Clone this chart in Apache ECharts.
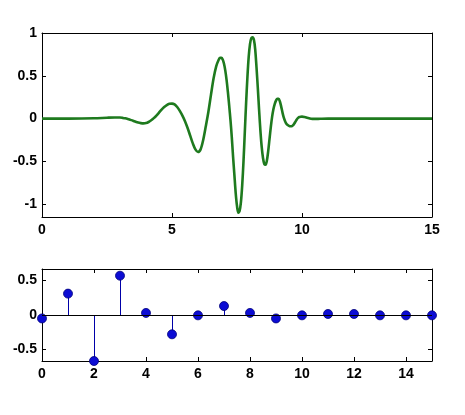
<!DOCTYPE html>
<html>
<head>
<meta charset="utf-8">
<script src="https://cdn.jsdelivr.net/npm/echarts@6/dist/echarts.min.js"></script>
<style>html,body{margin:0;padding:0;background:#fff;}#c{width:465px;height:415px;}</style>
</head>
<body>
<div id="c"></div>
<script>
// Top panel: wavelet curve
var waveX = [0, 1, 2, 2.5, 2.8, 3.0, 3.1, 3.2, 3.3, 3.4, 3.5, 3.6, 3.7, 3.8, 3.9, 4.0, 4.1, 4.2, 4.3, 4.4, 4.5, 4.6, 4.7, 4.8, 4.9, 5.0, 5.1, 5.2, 5.3, 5.4, 5.5, 5.6, 5.7, 5.8, 5.9, 6.0, 6.1, 6.2, 6.3, 6.4, 6.5, 6.6, 6.7,
  6.8, 6.85, 6.9, 6.95, 7.0, 7.05, 7.1, 7.15, 7.2, 7.25, 7.3, 7.35, 7.4, 7.45, 7.5, 7.55, 7.6, 7.65, 7.7, 7.75, 7.8, 7.85, 7.9, 7.95,
  8.0, 8.05, 8.1, 8.15, 8.2, 8.25, 8.3, 8.35, 8.4, 8.45, 8.5, 8.55, 8.6, 8.65, 8.7, 8.75, 8.8, 8.85, 8.9, 8.95,
  9.0, 9.05, 9.1, 9.15, 9.2, 9.25, 9.3, 9.35, 9.4, 9.45, 9.5, 9.55, 9.6, 9.65, 9.7, 9.75, 9.8, 9.85, 9.9, 9.95,
  10.0, 10.1, 10.2, 10.3, 10.4, 10.5, 10.7, 11, 12, 13, 14, 15];
var waveY = [0, 0, 0.003, 0.01, 0.013, 0.012, 0.008, 0.003, -0.005, -0.015, -0.025, -0.037, -0.047, -0.053, -0.056, -0.053, -0.04, -0.02, 0.005, 0.035, 0.07, 0.105, 0.135, 0.158, 0.172, 0.175, 0.165, 0.135, 0.09, 0.035, -0.03, -0.11, -0.2, -0.29, -0.36, -0.39, -0.36, -0.25, -0.09, 0.08, 0.28, 0.47, 0.61,
  0.69, 0.71, 0.71, 0.69, 0.64, 0.56, 0.45, 0.31, 0.15, -0.02, -0.22, -0.45, -0.66, -0.87, -1.02, -1.1, -1.08, -0.98, -0.78, -0.5, -0.16, 0.18, 0.48, 0.72,
  0.87, 0.94, 0.95, 0.92, 0.81, 0.6, 0.36, 0.1, -0.14, -0.33, -0.46, -0.53, -0.54, -0.49, -0.38, -0.24, -0.1, 0.02, 0.11, 0.17,
  0.21, 0.23, 0.23, 0.2, 0.14, 0.07, 0.01, -0.03, -0.06, -0.075, -0.085, -0.09, -0.09, -0.08, -0.06, -0.035, -0.01, 0.008, 0.018, 0.022,
  0.023, 0.018, 0.01, 0.002, -0.003, -0.004, -0.002, 0, 0, 0, 0, 0];
// Bottom panel: stem values
var stemX = [0, 1, 2, 3, 4, 5, 6, 7, 8, 9, 10, 11, 12, 13, 14, 15];
var stemY = [-0.05, 0.31, -0.667, 0.57, 0.03, -0.28, -0.005, 0.13, 0.03, -0.05, -0.005, 0.015, 0.015, -0.005, -0.005, -0.005];
// Tick labels
var topXTicks = [0, 5, 10, 15];
var topYTicks = [-1, -0.5, 0, 0.5, 1];
var botXTicks = [0, 2, 4, 6, 8, 10, 12, 14];
var botYTicks = [-0.5, 0, 0.5];

var chart = echarts.init(document.getElementById('c'), null, {renderer: 'canvas'});
var lblStyle = {color: '#000', fontFamily: 'Liberation Sans, Arial, sans-serif', fontWeight: 'bold', fontSize: 14};
function axisBase(extra) {
  var a = {
    type: 'value',
    axisLine: {show: true, onZero: false, lineStyle: {color: '#000', width: 1}},
    splitLine: {show: false}
  };
  for (var k in extra) a[k] = extra[k];
  return a;
}
function ticks(vals) {
  return {show: true, inside: true, length: 4, lineStyle: {color: '#000'}, customValues: vals};
}
var waveData = waveX.map(function (x, i) { return [x, waveY[i]]; });
var stemData = stemX.map(function (x, i) { return [x, stemY[i]]; });

var option = {
  animation: false,
  backgroundColor: '#fff',
  grid: [
    {left: 42, right: 33, top: 33, height: 184},
    {left: 42, right: 33, top: 269, height: 92}
  ],
  xAxis: [
    axisBase({gridIndex: 0, min: 0, max: 15, axisTick: ticks(topXTicks),
      axisLabel: Object.assign({margin: 6, customValues: topXTicks}, lblStyle)}),
    axisBase({gridIndex: 0, min: 0, max: 15, position: 'top', axisTick: ticks(topXTicks),
      axisLabel: {show: false}}),
    axisBase({gridIndex: 1, min: 0, max: 15, axisTick: ticks(botXTicks),
      axisLabel: Object.assign({margin: 6, customValues: botXTicks}, lblStyle)}),
    axisBase({gridIndex: 1, min: 0, max: 15, position: 'top', axisTick: ticks(botXTicks),
      axisLabel: {show: false}})
  ],
  yAxis: [
    axisBase({gridIndex: 0, min: -1.15, max: 1, axisTick: ticks(topYTicks),
      axisLabel: Object.assign({margin: 5, customValues: topYTicks}, lblStyle)}),
    axisBase({gridIndex: 0, min: -1.15, max: 1, position: 'right', axisTick: ticks(topYTicks),
      axisLabel: {show: false}}),
    axisBase({gridIndex: 1, min: -0.667, max: 0.667, axisTick: ticks(botYTicks),
      axisLabel: Object.assign({margin: 5, customValues: botYTicks}, lblStyle)}),
    axisBase({gridIndex: 1, min: -0.667, max: 0.667, position: 'right', axisTick: ticks(botYTicks),
      axisLabel: {show: false}})
  ],
  series: [
    {
      type: 'line', xAxisIndex: 0, yAxisIndex: 0, data: waveData,
      smooth: 0.3, showSymbol: false, symbol: 'none',
      lineStyle: {color: '#1e7a1e', width: 2.6}
    },
    {
      type: 'custom', xAxisIndex: 2, yAxisIndex: 2, data: stemData,
      renderItem: function (params, api) {
        var p0 = api.coord([api.value(0), 0]);
        var p1 = api.coord([api.value(0), api.value(1)]);
        var x = Math.round(p0[0]) + 0.5;
        return {type: 'line', shape: {x1: x, y1: p0[1], x2: x, y2: p1[1]},
          style: {stroke: '#0000a8', lineWidth: 1}};
      },
      markLine: {
        silent: true, symbol: 'none', label: {show: false},
        lineStyle: {color: '#000', width: 1, type: 'solid'},
        data: [{yAxis: 0}]
      },
      z: 2
    },
    {
      type: 'scatter', xAxisIndex: 2, yAxisIndex: 2, data: stemData,
      symbol: 'circle', symbolSize: 9,
      itemStyle: {color: '#0c0cd4', borderColor: '#00007a', borderWidth: 0.8, opacity: 1},
      z: 3
    }
  ]
};
chart.setOption(option);
</script>
</body>
</html>
